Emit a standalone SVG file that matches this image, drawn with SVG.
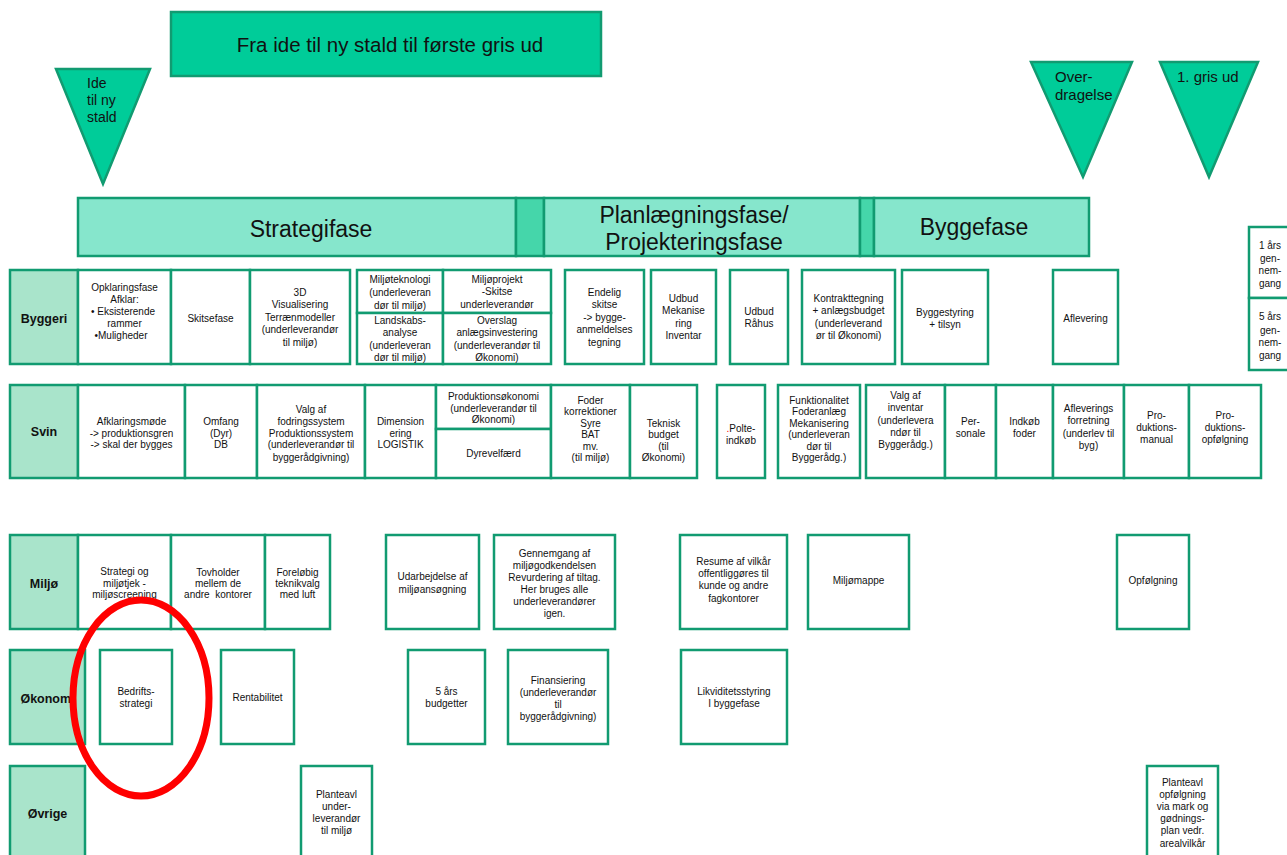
<svg xmlns="http://www.w3.org/2000/svg" width="1287" height="855" viewBox="0 0 1287 855">
<style>
.b{fill:#fff;stroke:#119B71;stroke-width:2.5}
.l{fill:#A9E4CB;stroke:#119B71;stroke-width:2.5}
.p{fill:#86E6CC;stroke:#119B71;stroke-width:2.5}
.d{fill:#45D6AA;stroke:#119B71;stroke-width:2.5}
.g{fill:#00CC99;stroke:#119B71;stroke-width:2.5}
text{font-family:"Liberation Sans",Arial,sans-serif;fill:#111}
.t{font-size:10px;text-anchor:middle}
.h{font-size:12.5px;font-weight:bold;text-anchor:middle}
.ph{font-size:23px;text-anchor:middle}
.tr{font-size:14px}
.tr2{font-size:15px}
</style>
<rect width="1287" height="855" fill="#fff"/>

<g id="title"><rect class="g" x="171" y="12" width="430" height="64"/><text x="390" y="52" font-size="20.5" text-anchor="middle">Fra ide til ny stald til første gris ud</text></g>

<g id="tri-ide"><polygon class="g" points="56,69 150,69 103,184"/><text class="tr"><tspan x="87" y="88">Ide</tspan><tspan x="87" y="105">til ny</tspan><tspan x="87" y="122">stald</tspan></text></g>
<g id="tri-over"><polygon class="g" points="1031,62 1132,62 1083,177"/><text class="tr2"><tspan x="1055" y="82">Over-</tspan><tspan x="1055" y="100">dragelse</tspan></text></g>
<g id="tri-gris"><polygon class="g" points="1160,62 1258,62 1209,177"/><text class="tr2"><tspan x="1177" y="82">1. gris ud</tspan></text></g>

<g id="phase-strategi"><rect class="p" x="78" y="198" width="438" height="58"/><text class="ph" x="311" y="237">Strategifase</text></g>
<g id="phase-div1"><rect class="d" x="516" y="198" width="28" height="58"/></g>
<g id="phase-plan"><rect class="p" x="544" y="198" width="316" height="58"/><text class="ph"><tspan x="694" y="223">Planlægningsfase/</tspan><tspan x="694" y="250">Projekteringsfase</tspan></text></g>
<g id="phase-div2"><rect class="d" x="860" y="198" width="14" height="58"/></g>
<g id="phase-bygge"><rect class="p" x="874" y="198" width="215" height="58"/><text class="ph" x="974" y="235">Byggefase</text></g>

<!-- Byggeri row -->
<g id="lbl-byggeri"><rect class="l" x="10" y="270" width="68" height="94"/><text class="h" x="44" y="322.5">Byggeri</text></g>
<g id="b-opklaring"><rect class="b" x="78" y="270" width="93" height="94"/><text class="t"><tspan x="124.5" y="290.5">Opklaringsfase</tspan><tspan x="124.5" y="302.5">Afklar:</tspan><tspan x="123" y="314.5">• Eksisterende</tspan><tspan x="124.5" y="326.5">rammer</tspan><tspan x="121" y="338.5">•Muligheder</tspan></text></g>
<g id="b-skitse"><rect class="b" x="171" y="270" width="79" height="94"/><text class="t" x="210.5" y="321.5">Skitsefase</text></g>
<g id="b-3d"><rect class="b" x="250" y="270" width="100" height="94"/><text class="t"><tspan x="300" y="295.5">3D</tspan><tspan x="300" y="308">Visualisering</tspan><tspan x="300" y="320.5">Terrænmodeller</tspan><tspan x="300" y="333">(underleverandør</tspan><tspan x="300" y="345.5">til miljø)</tspan></text></g>
<g id="b-miljotek"><rect class="b" x="357" y="270" width="86" height="43"/><text class="t"><tspan x="400" y="282.5">Miljøteknologi</tspan><tspan x="400" y="296">(underleveran</tspan><tspan x="400" y="308.5">dør til miljø)</tspan></text></g>
<g id="b-landskab"><rect class="b" x="357" y="313" width="86" height="51"/><text class="t"><tspan x="400" y="323.5">Landskabs-</tspan><tspan x="400" y="336">analyse</tspan><tspan x="400" y="348.5">(underleveran</tspan><tspan x="400" y="361">dør til miljø)</tspan></text></g>
<g id="b-miljoprojekt"><rect class="b" x="443" y="270" width="108" height="43"/><text class="t"><tspan x="497" y="283">Miljøprojekt</tspan><tspan x="497" y="295">-Skitse</tspan><tspan x="497" y="307.5">underleverandør</tspan></text></g>
<g id="b-overslag"><rect class="b" x="443" y="313" width="108" height="51"/><text class="t"><tspan x="497" y="323.5">Overslag</tspan><tspan x="497" y="336">anlægsinvestering</tspan><tspan x="497" y="348.5">(underleverandør til</tspan><tspan x="497" y="361">Økonomi)</tspan></text></g>
<g id="b-endelig"><rect class="b" x="565" y="270" width="79" height="94"/><text class="t"><tspan x="604.5" y="295.5">Endelig</tspan><tspan x="604.5" y="308">skitse</tspan><tspan x="604.5" y="320.5">-&gt; bygge-</tspan><tspan x="604.5" y="333">anmeldelses</tspan><tspan x="604.5" y="345.5">tegning</tspan></text></g>
<g id="b-udbudmek"><rect class="b" x="651" y="270" width="65" height="94"/><text class="t"><tspan x="683.5" y="301.5">Udbud</tspan><tspan x="683.5" y="314">Mekanise</tspan><tspan x="683.5" y="326.5">ring</tspan><tspan x="683.5" y="339">Inventar</tspan></text></g>
<g id="b-udbudraa"><rect class="b" x="730" y="270" width="58" height="94"/><text class="t"><tspan x="759" y="315">Udbud</tspan><tspan x="759" y="327">Råhus</tspan></text></g>
<g id="b-kontrakt"><rect class="b" x="802" y="270" width="93" height="94"/><text class="t"><tspan x="848.5" y="301.5">Kontrakttegning</tspan><tspan x="848.5" y="314">+ anlægsbudget</tspan><tspan x="848.5" y="326.5">(underleverand</tspan><tspan x="848.5" y="339">ør til Økonomi)</tspan></text></g>
<g id="b-byggestyring"><rect class="b" x="902" y="270" width="86" height="94"/><text class="t"><tspan x="945" y="315.5">Byggestyring</tspan><tspan x="945" y="327.5">+ tilsyn</tspan></text></g>
<g id="b-aflevering"><rect class="b" x="1053" y="270" width="65" height="94"/><text class="t" x="1085.5" y="321.5">Aflevering</text></g>
<g id="b-1aar"><rect class="b" x="1249" y="227" width="46" height="71"/><text class="t"><tspan x="1270" y="248.5">1 års</tspan><tspan x="1270" y="261.5">gen-</tspan><tspan x="1270" y="274">nem-</tspan><tspan x="1270" y="286.5">gang</tspan></text></g>
<g id="b-5aar"><rect class="b" x="1249" y="298" width="46" height="72"/><text class="t"><tspan x="1270" y="320">5 års</tspan><tspan x="1270" y="333.5">gen-</tspan><tspan x="1270" y="346">nem-</tspan><tspan x="1270" y="359">gang</tspan></text></g>

<!-- Svin row -->
<g id="lbl-svin"><rect class="l" x="10" y="385" width="68" height="93"/><text class="h" x="44" y="436">Svin</text></g>
<g id="s-afklaring"><rect class="b" x="78" y="385" width="107" height="93"/><text class="t"><tspan x="131.5" y="424.5">Afklaringsmøde</tspan><tspan x="131.5" y="436.5">-&gt; produktionsgren</tspan><tspan x="131.5" y="448">-&gt; skal der bygges</tspan></text></g>
<g id="s-omfang"><rect class="b" x="185" y="385" width="72" height="93"/><text class="t"><tspan x="221" y="424.5">Omfang</tspan><tspan x="221" y="436.5">(Dyr)</tspan><tspan x="221" y="448">DB</tspan></text></g>
<g id="s-valg"><rect class="b" x="257" y="385" width="108" height="93"/><text class="t"><tspan x="311" y="412.5">Valg af</tspan><tspan x="311" y="424.5">fodringssystem</tspan><tspan x="311" y="436.5">Produktionssystem</tspan><tspan x="311" y="448">(underleverandør til</tspan><tspan x="311" y="460.5">byggerådgivning)</tspan></text></g>
<g id="s-dimension"><rect class="b" x="365" y="385" width="71" height="93"/><text class="t"><tspan x="400.5" y="424.5">Dimension</tspan><tspan x="400.5" y="436.5">ering</tspan><tspan x="400.5" y="448">LOGISTIK</tspan></text></g>
<g id="s-prodok"><rect class="b" x="436" y="385" width="115" height="44"/><text class="t"><tspan x="493.5" y="399.5">Produktionsøkonomi</tspan><tspan x="493.5" y="411.5">(underleverandør til</tspan><tspan x="493.5" y="423">Økonomi)</tspan></text></g>
<g id="s-dyrevel"><rect class="b" x="436" y="429" width="115" height="49"/><text class="t" x="493.5" y="456.5">Dyrevelfærd</text></g>
<g id="s-foder"><rect class="b" x="551" y="385" width="79" height="93"/><text class="t"><tspan x="590.5" y="403.5">Foder</tspan><tspan x="590.5" y="415">korrektioner</tspan><tspan x="590.5" y="426.5">Syre</tspan><tspan x="590.5" y="438">BAT</tspan><tspan x="590.5" y="449.5">mv.</tspan><tspan x="590.5" y="461">(til miljø)</tspan></text></g>
<g id="s-teknisk"><rect class="b" x="630" y="385" width="67" height="93"/><text class="t"><tspan x="663.5" y="426.5">Teknisk</tspan><tspan x="663.5" y="438">budget</tspan><tspan x="663.5" y="449.5">(til</tspan><tspan x="663.5" y="461">Økonomi)</tspan></text></g>
<g id="s-polte"><rect class="b" x="717" y="385" width="48" height="93"/><text class="t"><tspan x="741" y="431.5"><tspan fill="#FF0000">.</tspan>Polte-</tspan><tspan x="741" y="443.5">indkøb</tspan></text></g>
<g id="s-funktion"><rect class="b" x="778" y="385" width="82" height="93"/><text class="t"><tspan x="819" y="403.5">Funktionalitet</tspan><tspan x="819" y="415">Foderanlæg</tspan><tspan x="819" y="426.5">Mekanisering</tspan><tspan x="819" y="438">(underleveran</tspan><tspan x="819" y="449.5">dør til</tspan><tspan x="819" y="461">Byggerådg.)</tspan></text></g>
<g id="s-inventar"><rect class="b" x="866" y="385" width="79" height="93"/><text class="t"><tspan x="905.5" y="398.5">Valg af</tspan><tspan x="905.5" y="411">inventar</tspan><tspan x="905.5" y="423.5">(underlevera</tspan><tspan x="905.5" y="436">ndør til</tspan><tspan x="905.5" y="448">Byggerådg.)</tspan></text></g>
<g id="s-personale"><rect class="b" x="945" y="385" width="51" height="93"/><text class="t"><tspan x="970.5" y="424.5">Per-</tspan><tspan x="970.5" y="436.5">sonale</tspan></text></g>
<g id="s-indkob"><rect class="b" x="996" y="385" width="57" height="93"/><text class="t"><tspan x="1024.5" y="424.5">Indkøb</tspan><tspan x="1024.5" y="436.5">foder</tspan></text></g>
<g id="s-afleverings"><rect class="b" x="1053" y="385" width="71" height="93"/><text class="t"><tspan x="1088.5" y="411.5">Afleverings</tspan><tspan x="1088.5" y="424">forretning</tspan><tspan x="1088.5" y="436.5">(underlev til</tspan><tspan x="1088.5" y="448.5">byg)</tspan></text></g>
<g id="s-manual"><rect class="b" x="1124" y="385" width="65" height="93"/><text class="t"><tspan x="1156.5" y="418.5">Pro-</tspan><tspan x="1156.5" y="430.5">duktions-</tspan><tspan x="1156.5" y="442.5">manual</tspan></text></g>
<g id="s-opfolg"><rect class="b" x="1189" y="385" width="72" height="93"/><text class="t"><tspan x="1225" y="418.5">Pro-</tspan><tspan x="1225" y="430.5">duktions-</tspan><tspan x="1225" y="442.5">opfølgning</tspan></text></g>

<!-- Miljø row -->
<g id="lbl-miljo"><rect class="l" x="10" y="535" width="68" height="94"/><text class="h" x="44" y="587.5">Miljø</text></g>
<g id="m-strategi"><rect class="b" x="78" y="535" width="93" height="94"/><text class="t"><tspan x="124.5" y="575">Strategi og</tspan><tspan x="124.5" y="586.5">miljøtjek -</tspan><tspan x="124.5" y="598">miljøscreening</tspan></text></g>
<g id="m-tovholder"><rect class="b" x="171" y="535" width="94" height="94"/><text class="t"><tspan x="218" y="575.5">Tovholder</tspan><tspan x="218" y="586.5">mellem de</tspan><tspan x="218" y="597.5" xml:space="preserve">andre  kontorer</tspan></text></g>
<g id="m-forelobig"><rect class="b" x="265" y="535" width="65" height="94"/><text class="t"><tspan x="297.5" y="575.5">Foreløbig</tspan><tspan x="297.5" y="586.5">teknikvalg</tspan><tspan x="297.5" y="597.5">med luft</tspan></text></g>
<g id="m-udarbejdelse"><rect class="b" x="386" y="535" width="93" height="94"/><text class="t"><tspan x="432.5" y="580">Udarbejdelse af</tspan><tspan x="432.5" y="592.5">miljøansøgning</tspan></text></g>
<g id="m-gennemgang"><rect class="b" x="494" y="535" width="121" height="94"/><text class="t"><tspan x="554.5" y="556.5">Gennemgang af</tspan><tspan x="554.5" y="569">miljøgodkendelsen</tspan><tspan x="554.5" y="580.5">Revurdering af tiltag.</tspan><tspan x="554.5" y="592.5">Her bruges alle</tspan><tspan x="554.5" y="605">underleverandører</tspan><tspan x="554.5" y="616.5">igen.</tspan></text></g>
<g id="m-resume"><rect class="b" x="680" y="535" width="107" height="94"/><text class="t"><tspan x="733.5" y="564.5">Resume af vilkår</tspan><tspan x="733.5" y="576.5">offentliggøres til</tspan><tspan x="733.5" y="589">kunde og andre</tspan><tspan x="733.5" y="601.5">fagkontorer</tspan></text></g>
<g id="m-miljomappe"><rect class="b" x="808" y="535" width="101" height="94"/><text class="t" x="858.5" y="583.5">Miljømappe</text></g>
<g id="m-opfolgning"><rect class="b" x="1117" y="535" width="72" height="94"/><text class="t" x="1153" y="583.5">Opfølgning</text></g>

<!-- Økonomi row -->
<g id="lbl-okonomi"><rect class="l" x="10" y="650" width="75" height="94"/><text class="h" x="47.5" y="702.5">Økonomi</text></g>
<g id="o-bedrift"><rect class="b" x="100" y="650" width="72" height="94"/><text class="t"><tspan x="136" y="695">Bedrifts-</tspan><tspan x="136" y="707">strategi</tspan></text></g>
<g id="o-rentabilitet"><rect class="b" x="221" y="650" width="73" height="94"/><text class="t" x="257.5" y="700.5">Rentabilitet</text></g>
<g id="o-5aars"><rect class="b" x="408" y="650" width="77" height="94"/><text class="t"><tspan x="446.5" y="695">5 års</tspan><tspan x="446.5" y="707">budgetter</tspan></text></g>
<g id="o-finans"><rect class="b" x="508" y="650" width="100" height="94"/><text class="t"><tspan x="558" y="683.5">Finansiering</tspan><tspan x="558" y="695.5">(underleverandør</tspan><tspan x="558" y="707.5">til</tspan><tspan x="558" y="719.5">byggerådgivning)</tspan></text></g>
<g id="o-likviditet"><rect class="b" x="681" y="650" width="106" height="94"/><text class="t"><tspan x="734" y="695">Likviditetsstyring</tspan><tspan x="734" y="707">I byggefase</tspan></text></g>

<!-- Øvrige row -->
<g id="lbl-ovrige"><rect class="l" x="10" y="766" width="75" height="100"/><text class="h" x="47.5" y="817.5">Øvrige</text></g>
<g id="v-planteavl"><rect class="b" x="301" y="766" width="71" height="100"/><text class="t"><tspan x="336.5" y="797.5">Planteavl</tspan><tspan x="336.5" y="809.5">under-</tspan><tspan x="336.5" y="821.5">leverandør</tspan><tspan x="336.5" y="833.5">til miljø</tspan></text></g>
<g id="v-planteavl2"><rect class="b" x="1147" y="766" width="71" height="100"/><text class="t"><tspan x="1182.5" y="785.5">Planteavl</tspan><tspan x="1182.5" y="797.5">opfølgning</tspan><tspan x="1182.5" y="810">via mark og</tspan><tspan x="1182.5" y="822">gødnings-</tspan><tspan x="1182.5" y="834">plan vedr.</tspan><tspan x="1182.5" y="846.5">arealvilkår</tspan></text></g>

<g id="connectors"></g>

<g id="highlight"><ellipse cx="141" cy="698" rx="68" ry="98" fill="none" stroke="#FF0000" stroke-width="7"/></g>
</svg>
